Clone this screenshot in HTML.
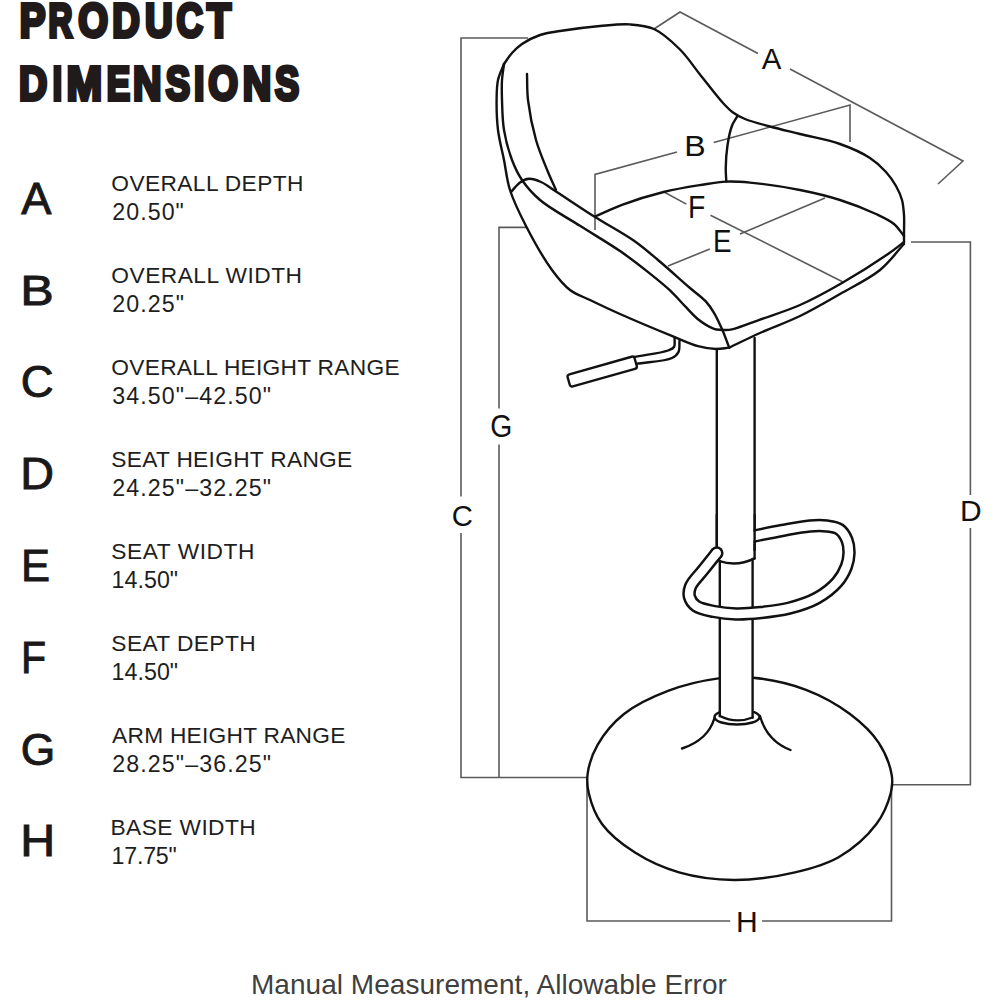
<!DOCTYPE html>
<html><head><meta charset="utf-8">
<style>
html,body{margin:0;padding:0;background:#fff;width:1000px;height:1000px;overflow:hidden}
svg{display:block}
text{font-family:"Liberation Sans",sans-serif}
.head{font-weight:bold;fill:#211a1a;stroke:#211a1a}
.big{fill:#1a1818;stroke:#1a1818;stroke-width:0.9px}
.lab{fill:#1e1e1e}
.dl{fill:#111}
.foot{fill:#3f3f3f}
</style></head><body>
<svg width="1000" height="1000" viewBox="0 0 1000 1000">
<g class="head" stroke-width="3.60">
<text transform="translate(19.70,36.70) scale(0.8121,1)" font-size="47.50" vector-effect="non-scaling-stroke">P</text>
<text transform="translate(48.58,36.70) scale(0.6964,1)" font-size="47.50" vector-effect="non-scaling-stroke">R</text>
<text transform="translate(78.32,36.70) scale(0.8071,1)" font-size="47.50" vector-effect="non-scaling-stroke">O</text>
<text transform="translate(112.26,36.70) scale(0.8032,1)" font-size="47.50" vector-effect="non-scaling-stroke">D</text>
<text transform="translate(144.88,36.70) scale(0.8061,1)" font-size="47.50" vector-effect="non-scaling-stroke">U</text>
<text transform="translate(176.56,36.70) scale(0.7686,1)" font-size="47.50" vector-effect="non-scaling-stroke">C</text>
<text transform="translate(206.92,36.70) scale(0.8307,1)" font-size="47.50" vector-effect="non-scaling-stroke">T</text>
<text transform="translate(18.96,100.20) scale(0.8236,1)" font-size="47.50" vector-effect="non-scaling-stroke">D</text>
<text transform="translate(52.76,100.20) scale(0.7047,1)" font-size="47.50" vector-effect="non-scaling-stroke">I</text>
<text transform="translate(66.52,100.20) scale(0.9013,1)" font-size="47.50" vector-effect="non-scaling-stroke">M</text>
<text transform="translate(106.76,100.20) scale(0.7350,1)" font-size="47.50" vector-effect="non-scaling-stroke">E</text>
<text transform="translate(132.96,100.20) scale(0.8307,1)" font-size="47.50" vector-effect="non-scaling-stroke">N</text>
<text transform="translate(165.68,100.20) scale(0.7673,1)" font-size="47.50" vector-effect="non-scaling-stroke">S</text>
<text transform="translate(194.08,100.20) scale(0.7855,1)" font-size="47.50" vector-effect="non-scaling-stroke">I</text>
<text transform="translate(208.32,100.20) scale(0.8065,1)" font-size="47.50" vector-effect="non-scaling-stroke">O</text>
<text transform="translate(242.70,100.20) scale(0.8315,1)" font-size="47.50" vector-effect="non-scaling-stroke">N</text>
<text transform="translate(275.12,100.20) scale(0.7607,1)" font-size="47.50" vector-effect="non-scaling-stroke">S</text>
</g>
<text class="foot" x="250.99" y="993.96" font-size="28.00" textLength="475.84" lengthAdjust="spacing">Manual Measurement, Allowable Error</text>
<text class="lab" x="111.31" y="191.00" font-size="22.74" textLength="192.12" lengthAdjust="spacing">OVERALL DEPTH</text>
<text class="lab" x="112.26" y="220.38" font-size="23.22" textLength="71.60" lengthAdjust="spacing">20.50"</text>
<text class="lab" x="111.31" y="283.00" font-size="22.74" textLength="190.72" lengthAdjust="spacing">OVERALL WIDTH</text>
<text class="lab" x="112.26" y="312.38" font-size="23.22" textLength="71.76" lengthAdjust="spacing">20.25"</text>
<text class="lab" x="111.31" y="375.00" font-size="22.74" textLength="288.24" lengthAdjust="spacing">OVERALL HEIGHT RANGE</text>
<text class="lab" x="112.26" y="404.38" font-size="23.22" textLength="158.84" lengthAdjust="spacing">34.50"–42.50"</text>
<text class="lab" x="111.31" y="467.00" font-size="22.74" textLength="240.96" lengthAdjust="spacing">SEAT HEIGHT RANGE</text>
<text class="lab" x="112.26" y="496.38" font-size="23.22" textLength="158.84" lengthAdjust="spacing">24.25"–32.25"</text>
<text class="lab" x="111.31" y="559.00" font-size="22.74" textLength="143.12" lengthAdjust="spacing">SEAT WIDTH</text>
<text class="lab" x="111.46" y="588.38" font-size="23.22" textLength="66.64" lengthAdjust="spacing">14.50"</text>
<text class="lab" x="111.31" y="651.00" font-size="22.74" textLength="144.32" lengthAdjust="spacing">SEAT DEPTH</text>
<text class="lab" x="111.46" y="680.38" font-size="23.22" textLength="66.64" lengthAdjust="spacing">14.50"</text>
<text class="lab" x="112.11" y="743.00" font-size="22.74" textLength="233.20" lengthAdjust="spacing">ARM HEIGHT RANGE</text>
<text class="lab" x="112.26" y="772.38" font-size="23.22" textLength="158.84" lengthAdjust="spacing">28.25"–36.25"</text>
<text class="lab" x="110.51" y="835.00" font-size="22.74" textLength="145.12" lengthAdjust="spacing">BASE WIDTH</text>
<text class="lab" x="111.46" y="864.38" font-size="23.22" textLength="65.36" lengthAdjust="spacing">17.75"</text>
<text class="big" x="21.29" y="213.80" font-size="45.16" textLength="30.20" lengthAdjust="spacingAndGlyphs">A</text>
<text class="big" x="20.29" y="305.30" font-size="43.16" textLength="33.48" lengthAdjust="spacingAndGlyphs">B</text>
<text class="big" x="20.81" y="397.42" font-size="44.52" textLength="32.84" lengthAdjust="spacingAndGlyphs">C</text>
<text class="big" x="20.29" y="488.80" font-size="45.16" textLength="33.76" lengthAdjust="spacingAndGlyphs">D</text>
<text class="big" x="21.09" y="580.92" font-size="44.19" textLength="29.04" lengthAdjust="spacingAndGlyphs">E</text>
<text class="big" x="21.09" y="672.86" font-size="43.94" textLength="25.08" lengthAdjust="spacingAndGlyphs">F</text>
<text class="big" x="20.81" y="765.30" font-size="44.52" textLength="34.48" lengthAdjust="spacingAndGlyphs">G</text>
<text class="big" x="20.29" y="855.54" font-size="43.48" textLength="35.00" lengthAdjust="spacingAndGlyphs">H</text>
<text class="dl" x="761.89" y="68.76" font-size="28.94" textLength="19.60" lengthAdjust="spacingAndGlyphs">A</text>
<text class="dl" x="684.24" y="156.00" font-size="30.28" textLength="21.40" lengthAdjust="spacingAndGlyphs">B</text>
<text class="dl" x="688.02" y="218.48" font-size="30.54" textLength="17.32" lengthAdjust="spacingAndGlyphs">F</text>
<text class="dl" x="713.04" y="252.00" font-size="30.54" textLength="18.56" lengthAdjust="spacingAndGlyphs">E</text>
<text class="dl" x="490.32" y="436.98" font-size="31.44" textLength="22.04" lengthAdjust="spacingAndGlyphs">G</text>
<text class="dl" x="451.82" y="525.52" font-size="29.31" textLength="21.16" lengthAdjust="spacingAndGlyphs">C</text>
<text class="dl" x="960.04" y="520.50" font-size="29.03" textLength="21.64" lengthAdjust="spacingAndGlyphs">D</text>
<text class="dl" x="736.04" y="931.52" font-size="30.28" textLength="21.76" lengthAdjust="spacingAndGlyphs">H</text>
<g fill="none" stroke="#5a5a5a" stroke-width="1.6">

<path d="M528,38 H461 V496.6 M461,533 V777.5 H587"/>
<path d="M526,227.4 H499 V408.4 M499,444.5 V777.5"/>
<path d="M911,242 H970.4 V495 M970.4,528 V784.8 H891.5"/>
<path d="M587,777.5 V921 H730.2 M762,921 H891.5 V785"/>
<path d="M654,29 L680,12 L758,53.5 M790,69 L963,161 L938,184"/>
<path d="M595,230 V174.4 L677,152 M713.7,142.6 L850,105 V142"/>
<path d="M664,192 L686.4,204.1 M710.5,215.2 L843,282"/>
<path d="M668,266 L709.8,249 M740,234 L825,198"/>

</g>
<g fill="none" stroke="#111" stroke-width="2.4" stroke-linecap="round" stroke-linejoin="round">
<path d="M718.60,678.40 C703.23,680.43 683.93,684.85 668.00,690.90 C652.44,696.81 636.08,704.38 624.00,714.00 C613.09,722.70 603.73,734.12 597.60,744.80 C592.31,754.02 588.93,764.63 587.70,773.40 C586.71,780.50 587.12,786.04 588.80,793.20 C590.98,802.51 595.16,814.63 602.00,824.00 C609.81,834.70 622.56,844.65 635.00,852.60 C648.08,860.95 663.16,867.84 679.00,872.40 C695.99,877.29 715.18,879.87 734.00,880.00 C753.80,880.13 776.53,876.73 795.00,872.40 C811.08,868.63 825.62,864.84 839.00,857.00 C852.84,848.89 867.60,835.79 876.40,824.00 C883.66,814.27 888.41,802.23 890.70,793.20 C892.35,786.69 892.87,782.24 891.80,775.60 C890.29,766.17 885.20,752.60 878.60,742.60 C871.56,731.93 861.25,722.45 850.00,714.00 C837.46,704.59 821.78,695.81 806.00,689.80 C789.61,683.55 769.04,679.33 753.20,677.70 C740.54,676.40 731.13,676.75 718.60,678.40Z"/>
<rect x="720.5" y="660" width="31.5" height="54" fill="#fff" stroke="none"/>
<line x1="716.8" y1="349" x2="716.8" y2="548"/>
<line x1="754.6" y1="338" x2="754.6" y2="558.4"/>
<line x1="719.8" y1="561" x2="719.8" y2="716"/>
<line x1="752.6" y1="559" x2="752.6" y2="717.5"/>
<path d="M719.8,712.2 A22.5,7.5 0 1,0 754.2,712.2"/>
<path d="M719.8,716 Q736,724 752.6,717.5"/>
<path d="M504.00,64.00 C506.67,60.33 508.99,56.34 512.00,53.00 C514.99,49.68 517.96,46.75 522.00,44.00 C526.94,40.63 533.69,37.17 540.00,35.00 C546.35,32.82 552.16,32.27 560.00,31.00 C571.02,29.21 587.61,27.10 600.00,26.00 C610.70,25.05 620.59,23.76 630.00,24.40 C638.48,24.98 646.26,25.46 654.00,29.00 C663.01,33.12 672.28,41.84 680.00,49.50 C687.59,57.03 693.09,65.90 700.00,74.50 C707.39,83.70 716.72,96.19 723.00,103.00 C726.85,107.18 729.32,109.83 733.00,112.50 C736.66,115.16 740.15,116.98 745.00,119.00 C751.71,121.79 761.26,124.10 770.00,126.50 C779.52,129.12 789.28,131.32 800.00,134.00 C812.38,137.09 827.81,139.68 840.00,144.00 C850.92,147.87 861.86,152.69 870.00,158.00 C876.53,162.25 881.52,167.06 886.00,172.00 C890.03,176.44 893.29,181.18 896.00,186.00 C898.55,190.53 900.67,195.16 902.00,200.00 C903.33,204.83 903.65,209.69 904.00,215.00 C904.39,220.95 904.00,229.02 904.00,234.00 C904.00,237.23 904.00,239.33 904.00,242.00"/>
<path d="M504.00,64.00 C502.00,69.33 499.25,74.27 498.00,80.00 C496.65,86.20 496.69,92.66 496.60,100.00 C496.50,108.99 496.78,120.05 498.00,130.00 C499.23,140.05 502.00,150.00 504.00,160.00 C506.00,170.00 506.74,179.73 510.00,190.00 C513.70,201.65 519.60,213.59 526.00,226.00 C533.29,240.13 543.56,258.51 552.00,270.00 C558.12,278.34 563.31,284.91 570.00,290.00 C576.10,294.64 582.63,296.44 590.00,300.00 C598.96,304.33 608.53,308.90 620.00,314.00 C635.12,320.72 658.58,330.53 673.00,336.40 C682.85,340.41 690.24,344.10 698.00,346.20 C704.39,347.93 710.48,348.87 716.00,349.00 C720.68,349.11 724.67,348.07 729.00,347.60"/>
<path d="M504.00,64.00 C503.33,69.33 502.35,74.36 502.00,80.00 C501.61,86.28 501.76,92.66 502.00,100.00 C502.30,108.99 502.36,120.08 504.00,130.00 C505.66,140.08 508.65,151.16 512.00,160.00 C514.84,167.50 517.65,173.61 522.00,180.00 C526.77,187.00 532.27,193.42 540.00,200.00 C550.28,208.75 566.58,217.23 580.00,225.80 C593.51,234.43 608.49,243.09 620.80,251.60 C631.51,259.00 641.27,266.65 650.00,273.60 C657.38,279.47 663.85,284.62 670.00,290.40 C675.79,295.84 681.02,302.10 686.00,307.20 C690.26,311.56 693.47,315.66 698.00,319.20 C702.75,322.91 709.41,327.16 714.00,328.80 C717.06,329.89 719.47,329.60 722.20,330.00"/>
<path d="M511.00,192.00 C514.00,188.83 516.74,184.73 520.00,182.50 C522.81,180.57 525.75,179.01 529.00,178.80 C532.68,178.56 536.92,180.21 541.00,182.00 C545.88,184.14 549.85,187.54 556.00,191.50 C565.97,197.92 581.94,208.75 595.00,217.00 C607.94,225.17 622.78,232.94 634.00,240.80 C643.20,247.25 649.51,252.89 658.00,260.00 C667.99,268.36 681.14,280.36 690.00,288.00 C696.23,293.37 701.79,297.02 706.00,301.60 C709.41,305.31 711.48,308.57 714.00,312.80 C716.93,317.73 719.68,323.85 722.20,329.60 C724.76,335.44 726.87,341.60 729.20,347.60"/>
<path d="M527.00,74.00 C527.33,82.67 526.87,90.45 528.00,100.00 C529.42,111.95 532.44,127.54 536.00,140.00 C539.25,151.40 544.28,162.90 548.00,172.00 C550.83,178.91 553.33,184.00 556.00,190.00"/>
<path d="M737.30,116.30 C735.47,119.60 733.32,122.20 731.80,126.20 C729.77,131.55 728.41,139.19 727.40,146.00 C726.35,153.10 725.86,161.55 725.75,168.00 C725.66,173.04 726.12,177.00 726.30,181.50"/>
<path d="M595.00,216.50 C604.00,212.60 611.92,208.52 622.00,204.80 C634.26,200.27 649.92,195.38 663.60,192.00 C676.56,188.80 690.68,186.62 702.00,184.80 C710.91,183.37 717.98,181.96 726.00,181.60 C733.98,181.24 740.58,181.71 750.00,182.60 C763.67,183.89 784.33,186.89 800.00,190.00 C814.15,192.81 827.14,195.91 840.00,200.00 C852.45,203.96 866.19,209.39 876.00,214.00 C883.17,217.36 889.16,219.99 894.00,224.00 C898.21,227.49 900.67,232.00 904.00,236.00"/>
<path d="M722.20,330.00 C725.47,329.80 727.97,330.21 732.00,329.40 C739.01,327.99 749.85,323.23 760.00,319.60 C772.16,315.25 786.70,310.88 800.00,305.00 C814.04,298.80 827.85,291.15 842.00,283.00 C857.16,274.27 876.74,261.76 888.00,254.00 C894.83,249.30 898.67,246.00 904.00,242.00"/>
<path d="M729.20,347.60 C739.47,342.73 749.01,337.94 760.00,333.00 C772.41,327.42 786.83,322.40 800.00,316.00 C813.50,309.44 826.74,301.62 840.00,294.00 C853.41,286.30 868.88,279.04 880.00,270.00 C889.68,262.12 896.00,252.67 904.00,244.00"/>
<path d="M679.50,340.60 C679.17,344.40 679.97,349.01 678.50,352.00 C677.21,354.63 675.40,356.33 672.00,358.00 C665.09,361.38 648.00,362.00 636.00,364.00"/>
<path d="M674.60,337.80 C674.40,340.87 675.33,344.86 674.00,347.00 C672.85,348.86 670.95,349.39 668.00,350.50 C661.41,352.97 645.33,354.83 634.00,357.00"/>
<path d="M714.5,718 Q708,740 682,748.5"/>
<path d="M760,716 Q767,741 790.5,750"/>
<path d="M719.5,561.2 Q737,567 754.6,558.4"/>
<rect x="0" y="0" width="69.6" height="12.6" rx="2.5" fill="#fff" transform="translate(567,375) rotate(-15.8)"/>
<path d="M748.00,537.30 C759.33,535.03 771.20,532.45 782.00,530.50 C791.77,528.74 801.83,526.65 810.00,526.00 C816.29,525.50 821.63,525.32 826.80,526.00 C831.37,526.60 836.13,527.05 839.50,529.40 C842.85,531.73 845.41,536.07 847.00,540.00 C848.61,543.99 849.09,548.80 849.00,553.20 C848.91,557.63 848.09,562.04 846.40,566.50 C844.46,571.63 841.52,577.16 837.30,582.00 C832.24,587.80 824.70,593.71 817.00,598.00 C808.74,602.60 798.45,605.78 789.00,608.20 C779.78,610.56 770.09,611.55 761.00,612.50 C752.45,613.39 744.06,614.11 736.00,613.90 C728.42,613.70 720.90,612.92 714.00,611.50 C707.63,610.19 700.20,609.01 696.00,606.00 C692.77,603.69 690.40,600.30 689.50,597.00 C688.63,593.78 689.04,590.18 690.50,586.50 C692.57,581.27 699.12,575.28 703.50,569.70 C707.89,564.11 712.37,558.57 716.80,553.00" stroke-width="13.5" stroke-linecap="butt"/>
<circle cx="716.8" cy="553" r="6.75" fill="#111" stroke="none"/>
<path d="M748.00,537.30 C759.33,535.03 771.20,532.45 782.00,530.50 C791.77,528.74 801.83,526.65 810.00,526.00 C816.29,525.50 821.63,525.32 826.80,526.00 C831.37,526.60 836.13,527.05 839.50,529.40 C842.85,531.73 845.41,536.07 847.00,540.00 C848.61,543.99 849.09,548.80 849.00,553.20 C848.91,557.63 848.09,562.04 846.40,566.50 C844.46,571.63 841.52,577.16 837.30,582.00 C832.24,587.80 824.70,593.71 817.00,598.00 C808.74,602.60 798.45,605.78 789.00,608.20 C779.78,610.56 770.09,611.55 761.00,612.50 C752.45,613.39 744.06,614.11 736.00,613.90 C728.42,613.70 720.90,612.92 714.00,611.50 C707.63,610.19 700.20,609.01 696.00,606.00 C692.77,603.69 690.40,600.30 689.50,597.00 C688.63,593.78 689.04,590.18 690.50,586.50 C692.57,581.27 699.12,575.28 703.50,569.70 C707.89,564.11 712.37,558.57 716.80,553.00" stroke="#fff" stroke-width="8.5" stroke-linecap="butt"/>
<circle cx="716.8" cy="553" r="4.25" fill="#fff" stroke="none"/>
<rect x="718.2" y="515" width="35.2" height="29" fill="#fff" stroke="none"/>
<line x1="754.6" y1="515" x2="754.6" y2="550"/>
<line x1="716.8" y1="515" x2="716.8" y2="546"/>
</g>
</svg>
</body></html>
